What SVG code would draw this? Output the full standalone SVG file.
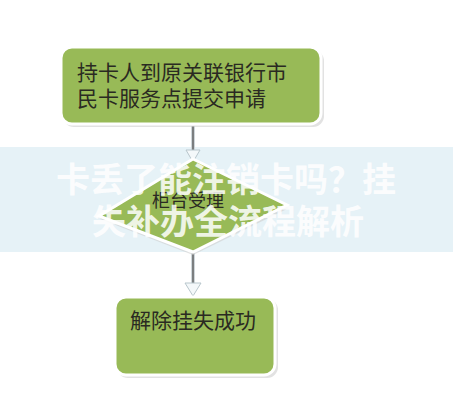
<svg xmlns="http://www.w3.org/2000/svg" width="453" height="400" viewBox="0 0 453 400">
<defs>
<style>
.box{fill:#98ba57;stroke:#ffffff;stroke-width:3}
.shadow{fill:#cfcfcf;opacity:0.6}
.t{font-family:"Noto Sans CJK SC","Liberation Sans",sans-serif;fill:#2a2a22}
.line{stroke:#444;stroke-width:1.2;fill:none}
.lineb{stroke:#cfd6da;stroke-width:4;fill:none}
.head{fill:#f4f8fa;stroke:#b8c6cc;stroke-width:1}
.ban{font-family:"Noto Sans CJK SC","Liberation Sans",sans-serif;font-weight:bold;font-size:34px;fill:#ffffff;fill-opacity:0.85;text-anchor:middle}
</style>
</defs>
<rect width="453" height="400" fill="#ffffff"/>
<rect x="0" y="147" width="453" height="105" fill="#e6f2f7"/>
<g id="connectors">
<path class="lineb" d="M193 126 V150"/>
<path class="line" d="M193 126 V152"/>
<path class="head" d="M186 150 L193 162 L200 150 Z"/>
<path class="lineb" d="M193 252 V284"/>
<path class="line" d="M193 252 V286"/>
<path class="head" d="M185 283 L193 296 L201 283 Z"/>
</g>
<g id="node1">
<rect class="shadow" x="63" y="50" width="261" height="77" rx="11"/>
<rect class="box" x="61" y="47" width="260" height="77" rx="11"/>
<text class="t" font-size="21" x="77" y="80">持卡人到原关联银行市</text>
<text class="t" font-size="21" x="77" y="106">民卡服务点提交申请</text>
</g>
<g id="node2">
<path class="shadow" d="M193 163 L289 208 L193 255 L100 219 Z"/>
<path class="box" d="M193 159 L287 205 L193 252 L99 216 Z"/>
<text class="t" font-size="18" x="152" y="207">柜台受理</text>
</g>
<g id="node3">
<rect class="shadow" x="117" y="299" width="161" height="79" rx="11"/>
<rect class="box" x="115" y="297" width="160" height="78" rx="11"/>
<text class="t" font-size="21" x="130" y="328">解除挂失成功</text>
</g>
<text class="ban" x="226" y="192">卡丢了能注销卡吗？挂</text>
<text class="ban" x="228" y="234">失补办全流程解析</text>
</svg>
